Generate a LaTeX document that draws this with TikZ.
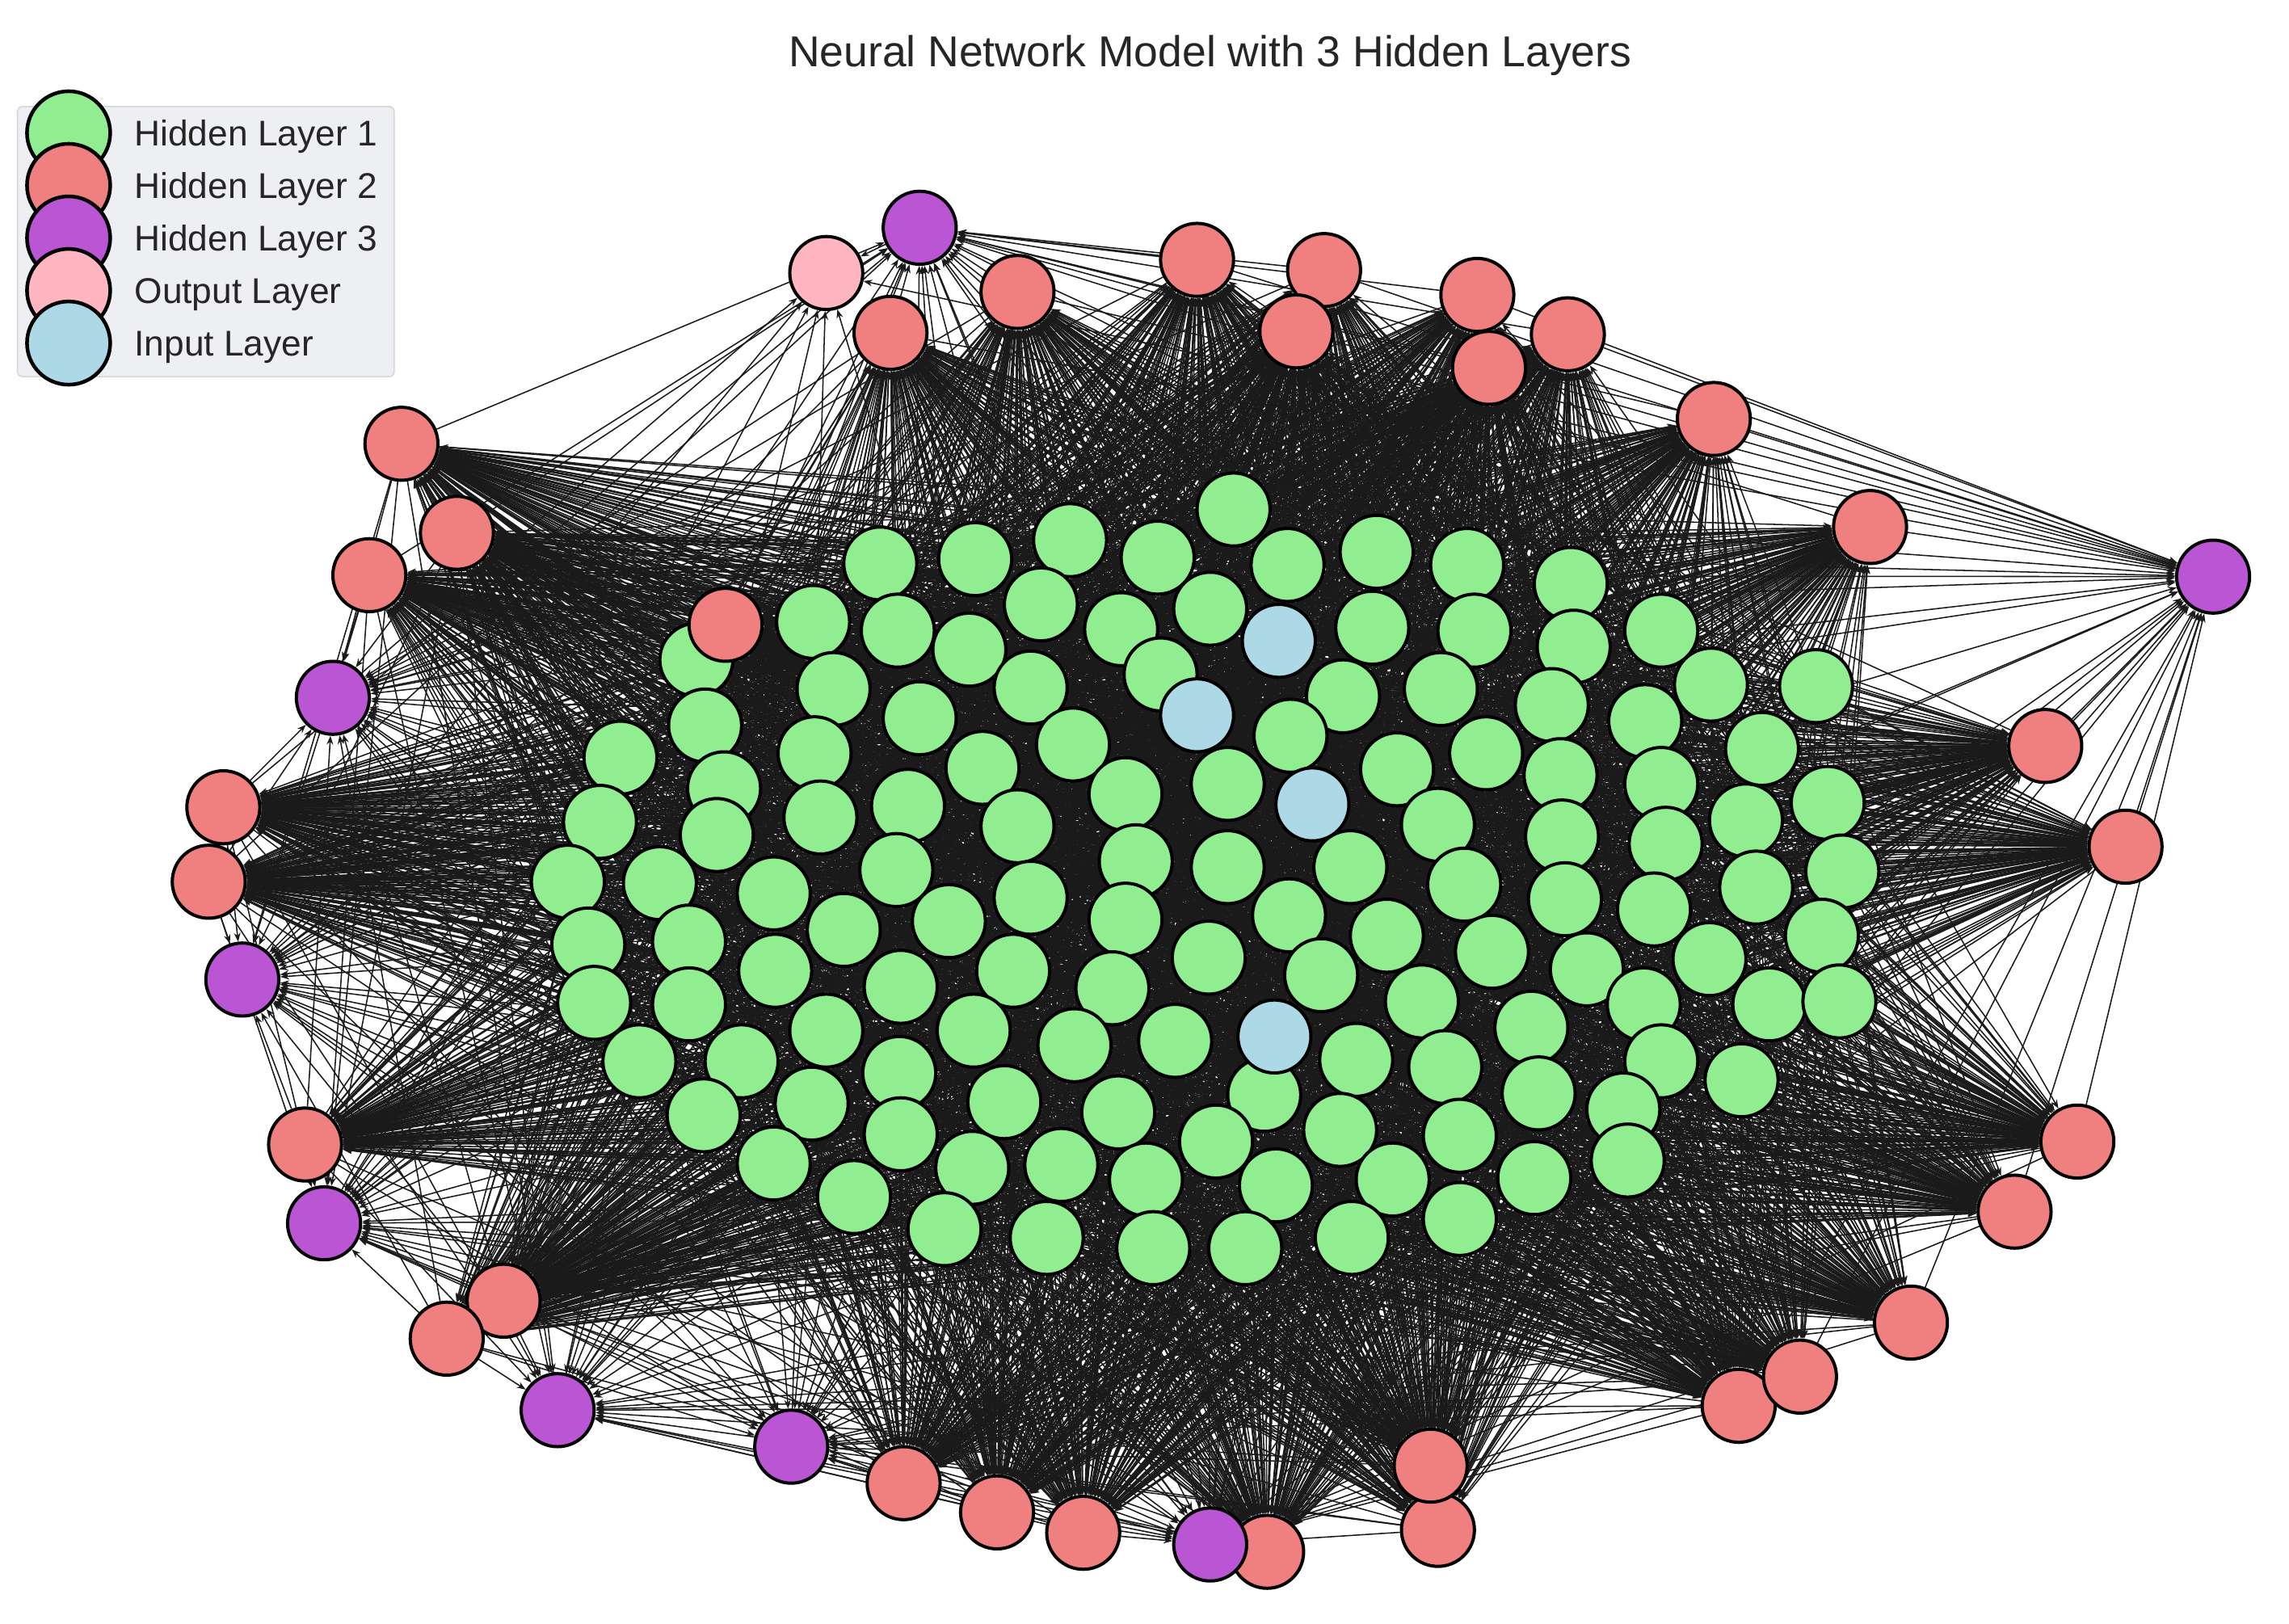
\documentclass[tikz,border=0pt]{standalone}
\usepackage{fontspec}
\setmainfont{Liberation Sans}
\usetikzlibrary{arrows.meta}
\pgfdeclarelayer{bgfill}
\pgfdeclarelayer{edges}
\pgfsetlayers{bgfill,edges,main}
\definecolor{hOne}{HTML}{90EE90}
\definecolor{hTwo}{HTML}{F08080}
\definecolor{hThree}{HTML}{BA55D3}
\definecolor{outc}{HTML}{FFB6C1}
\definecolor{inc}{HTML}{ADD8E6}
\definecolor{edgec}{HTML}{1A1A1A}
\definecolor{txtc}{HTML}{262626}
\definecolor{legbg}{HTML}{EEEFF3}
\definecolor{legbd}{HTML}{D5D5D8}
\tikzset{
  neuron/.style={circle, draw=black, line width=2.2pt, minimum size=50pt, inner sep=0pt},
  lone/.style={neuron, fill=hOne},
  ltwo/.style={neuron, fill=hTwo},
  lthree/.style={neuron, fill=hThree},
  lout/.style={neuron, fill=outc},
  lin/.style={neuron, fill=inc},
  legmark/.style={circle, draw=black, line width=2.5pt, minimum size=57pt, inner sep=0pt},
  legtext/.style={anchor=base west, inner sep=0pt, text=txtc, font=\fontsize{24.5}{28}\selectfont},
  conn/.style={draw=edgec, line width=0.85pt, -{Stealth[length=6pt,width=4.5pt]}},
}
\begin{document}
\begin{tikzpicture}[x=1pt,y=-1pt]
\useasboundingbox (0,0) rectangle (1568,1112);
\begin{pgfonlayer}{bgfill}
\fill[white] (0,0) rectangle (1568,1112);
\end{pgfonlayer}

% Hidden layer 1
\foreach \x/\y [count=\k] in {
845/349, 733/370, 668/383, 793/382, 603/386, 882/387, 943/378, 1005/387, 1076/400,
557/426, 615/432, 713/414, 768/431, 829/417, 940/430, 1010/432, 1078/443, 1138/432,
477/452, 664/445, 795/462, 1172/469, 1244/470, 571/472, 630/492, 706/471, 920/477,
987/472, 1063/483, 483/497, 735/510, 884/504, 1127/494, 1207/513, 425/519, 558/516,
673/526, 771/544, 957/527, 1018/516, 1069/531, 496/540, 841/537, 1138/537, 1252/550,
411/563, 562/560, 622/552, 697/566, 985/565, 1070/573, 1196/562, 1141/578, 389/604,
452/605, 491/572, 614/596, 778/590, 841/594, 925/594, 1003/606, 1072/616, 1262/597,
1203/608, 530/612, 706/615, 1133/623, 403/647, 472/645, 578/637, 650/631, 771/630,
883/627, 950/641, 1022/652, 1248/641, 1087/664, 1171/657, 531/665, 694/665, 828/656,
905/668, 407/687, 472/688, 617/676, 762/677, 974/686, 1126/688, 1212/688, 1260/686,
566/706, 667/706, 736/716, 805/713, 1049/704, 438/727, 508/727, 616/735, 929/726,
990/731, 1138/727, 1193/740, 1054/749, 482/764, 556/756, 688/755, 766/762, 866/750,
918/774, 1112/760, 617/777, 833/782, 1000/778, 530/797, 666/800, 727/798, 874/812,
954/808, 1051/807, 1115/795, 585/820, 785/808, 647/842, 717/848, 790/855, 853/855,
926/848, 1000/835}
{\node[lone] (g\k) at (\x,\y) {}; \xdef\ng{\k}}

% Hidden layer 2
\foreach \x/\y [count=\k] in {
610/228, 697/200, 820/178, 907/185, 888/227, 1012/202, 1020/252, 1074/229,
1174/287, 1281/361, 275/304, 313/365, 253/394, 497/428, 153/553, 143/604,
1401/511, 1456/580, 209/784, 345/891, 306/917, 1423/782, 1380/830, 1309/906,
1191/963, 1233/943, 985/1048, 980/1004, 619/1016, 683/1036, 742/1050, 868/1063}
{\node[ltwo] (r\k) at (\x,\y) {}; \xdef\nr{\k}}

% Hidden layer 3
\foreach \x/\y [count=\k] in {
630/156, 1516/395, 228/478, 166/671, 222/838, 382/966, 542/991, 829/1058}
{\node[lthree] (p\k) at (\x,\y) {}; \xdef\np{\k}}

% Output layer
\node[lout] (o1) at (566,187) {};

% Input layer
\foreach \x/\y [count=\k] in {876/439, 820/490, 899/551, 873/710}
{\node[lin] (i\k) at (\x,\y) {}; \xdef\ni{\k}}

% Connections
\begin{pgfonlayer}{edges}
\foreach \a in {1,...,\ni} {\foreach \b in {1,...,\ng} {\draw[conn] (i\a) -- (g\b);}}
\foreach \a in {1,...,\ng} {\foreach \b in {1,...,\nr} {\draw[conn] (g\a) -- (r\b);}}
\foreach \a in {1,...,\nr} {\foreach \b in {1,...,\np} {\draw[conn] (r\a) -- (p\b);}}
\foreach \a in {1,...,\np} {\draw[conn] (p\a) -- (o1);}
\end{pgfonlayer}

% Title
\node[text=txtc, anchor=base, inner sep=0pt, font=\fontsize{29.6}{34}\selectfont] (title) at (829,45.5) {Neural Network Model with 3 Hidden Layers};

% Legend
\node[draw=legbd, fill=legbg, line width=0.8pt, rounded corners=3pt, minimum width=258pt, minimum height=185pt, inner sep=0pt] (legbox) at (141,165.5) {};
\node[legmark, fill=hOne] (lg1) at (47,91) {};
\node[legmark, fill=hTwo] (lg2) at (47,127) {};
\node[legmark, fill=hThree] (lg3) at (47,163) {};
\node[legmark, fill=outc] (lg4) at (47,199) {};
\node[legmark, fill=inc] (lg5) at (47,235) {};
\node[legtext] (lt1) at (92,99.8) {Hidden Layer 1};
\node[legtext] (lt2) at (92,135.8) {Hidden Layer 2};
\node[legtext] (lt3) at (92,171.8) {Hidden Layer 3};
\node[legtext] (lt4) at (92,207.8) {Output Layer};
\node[legtext] (lt5) at (92,243.8) {Input Layer};
\end{tikzpicture}
\end{document}
